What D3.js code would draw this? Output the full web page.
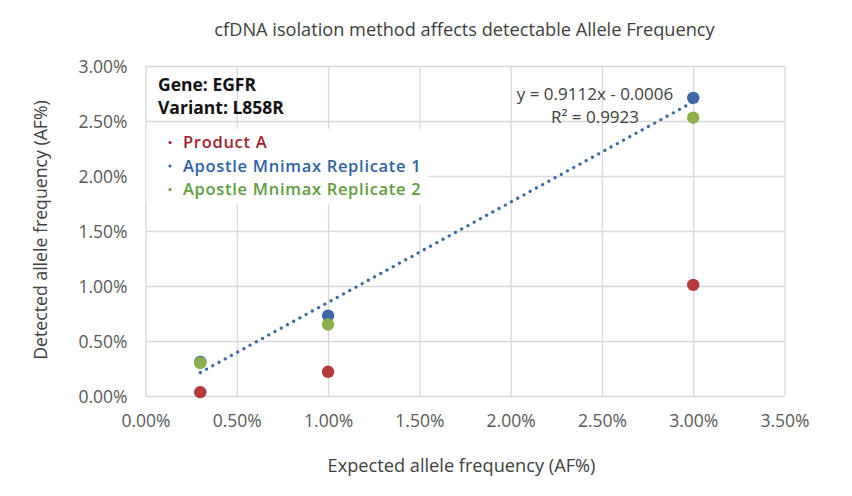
<!DOCTYPE html>
<html>
<head>
<meta charset="utf-8">
<script src="https://cdn.jsdelivr.net/npm/d3@7"></script>
<style>
  html, body { margin: 0; padding: 0; background: #fff; }
  svg { display: block; }
</style>
</head>
<body>
<svg id="chart" width="852" height="496"></svg>
<script>
// ---- data ----
const expected = [0.003, 0.01, 0.03];
const productA = [0.00035, 0.0022, 0.0101];
const replicate1 = [0.0031, 0.0073, 0.0271];
const replicate2 = [0.0030, 0.0065, 0.0253];
const seriesNames = ["Product A", "Apostle Mnimax Replicate 1", "Apostle Mnimax Replicate 2"];
const xTicks = [0, 0.005, 0.01, 0.015, 0.02, 0.025, 0.03, 0.035];
const yTicks = [0, 0.005, 0.01, 0.015, 0.02, 0.025, 0.03];
const trendSlope = 0.9112, trendIntercept = -0.0006;
const trendRange = [0.003, 0.03];
const equationText = "y = 0.9112x - 0.0006";
const r2Text = "R² = 0.9923";
const annotation = ["Gene: EGFR", "Variant: L858R"];
const titleText = "cfDNA isolation method affects detectable Allele Frequency";
const xLabel = "Expected allele frequency (AF%)";
const yLabel = "Detected allele frequency  (AF%)";

const pointColors = ["#B43A3C", "#3C68AA", "#8DB04B"];
const legendColors = ["#A51E2D", "#2F63A8", "#5F9D3F"];

const svg = d3.select("#chart");
const pLeft = 145.5, pRight = 784.5, pTop = 66, pBottom = 396;

const x = d3.scaleLinear().domain([0, 0.035]).range([pLeft, pRight]);
const y = d3.scaleLinear().domain([0, 0.03]).range([pBottom, pTop]);
const fmt = d3.format(".2%");

// gridlines
const gx = svg.append("g").attr("transform", `translate(0,${pBottom})`)
  .call(d3.axisBottom(x).tickValues(xTicks).tickSize(-(pBottom - pTop)).tickFormat(""));
const gy = svg.append("g").attr("transform", `translate(${pLeft},0)`)
  .call(d3.axisLeft(y).tickValues(yTicks).tickSize(-(pRight - pLeft)).tickFormat(""));
[gx, gy].forEach(g => {
  g.select(".domain").remove();
  g.selectAll(".tick line").attr("stroke", "#D9D9D9").attr("stroke-width", 1.3);
});

// tick labels
const tx = svg.append("g").attr("transform", `translate(0,${pBottom})`)
  .call(d3.axisBottom(x).tickValues(xTicks).tickSize(0).tickPadding(0).tickFormat(fmt));
tx.select(".domain").remove();
tx.selectAll("text").attr("dy", null).attr("y", 31)
  .attr("font-family", "Open Sans").attr("font-size", 17.5).attr("fill", "#595959");

const ty = svg.append("g").attr("transform", `translate(${pLeft},0)`)
  .call(d3.axisLeft(y).tickValues(yTicks).tickSize(0).tickPadding(0).tickFormat(fmt));
ty.select(".domain").remove();
ty.selectAll("text").attr("x", -18).attr("dy", "0.35em")
  .attr("font-family", "Open Sans").attr("font-size", 17.5).attr("fill", "#595959");

// legend white box (covers gridlines)
svg.append("rect").attr("x", pLeft + 1).attr("y", 129).attr("width", 282).attr("height", 75)
  .attr("fill", "#fff");

// trendline
const trend = trendRange.map(v => [x(v), y(trendSlope * v + trendIntercept)]);
svg.append("path").attr("d", d3.line()(trend))
  .attr("stroke", "#3C68AA").attr("stroke-width", 3.2).attr("fill", "none")
  .attr("stroke-linecap", "round").attr("stroke-dasharray", "0.1 7");

// points
const series = [productA, replicate1, replicate2];
series.forEach((vals, i) => {
  svg.append("g").selectAll("circle").data(vals).join("circle")
    .attr("cx", (d, j) => x(expected[j])).attr("cy", d => y(d))
    .attr("r", 6.2).attr("fill", pointColors[i]);
});

// title
svg.append("text").attr("x", 464.5).attr("y", 36).attr("text-anchor", "middle")
  .attr("font-family", "Open Sans").attr("font-size", 18.2).attr("fill", "#404040")
  .text(titleText);

// axis labels
svg.append("text").attr("x", 461.5).attr("y", 472).attr("text-anchor", "middle")
  .attr("font-family", "Open Sans").attr("font-size", 18.2).attr("fill", "#404040")
  .text(xLabel);
svg.append("text").attr("transform", "translate(47,230) rotate(-90)").attr("text-anchor", "middle")
  .attr("font-family", "Open Sans").attr("font-size", 17.7).attr("fill", "#404040")
  .text(yLabel);

// gene annotation
annotation.forEach((t, i) => {
  svg.append("text").attr("x", 158).attr("y", 91 + i * 23)
    .attr("font-family", "Open Sans").attr("font-weight", 700).attr("font-size", 17.5)
    .attr("fill", "#111").text(t);
});

// legend
seriesNames.forEach((t, i) => {
  const yy = 148 + i * 23.5;
  svg.append("circle").attr("cx", 170).attr("cy", yy - 5.5).attr("r", 1.5).attr("fill", legendColors[i]);
  svg.append("text").attr("x", 183).attr("y", yy)
    .attr("font-family", "Open Sans").attr("font-weight", 600).attr("font-size", 16.5)
    .attr("letter-spacing", 0.7)
    .attr("fill", legendColors[i]).text(t);
});

// equation
[equationText, r2Text].forEach((t, i) => {
  svg.append("text").attr("x", 595).attr("y", 100 + i * 23).attr("text-anchor", "middle")
    .attr("font-family", "Open Sans").attr("font-size", 17).attr("fill", "#404040").text(t);
});
</script>
</body>
</html>
